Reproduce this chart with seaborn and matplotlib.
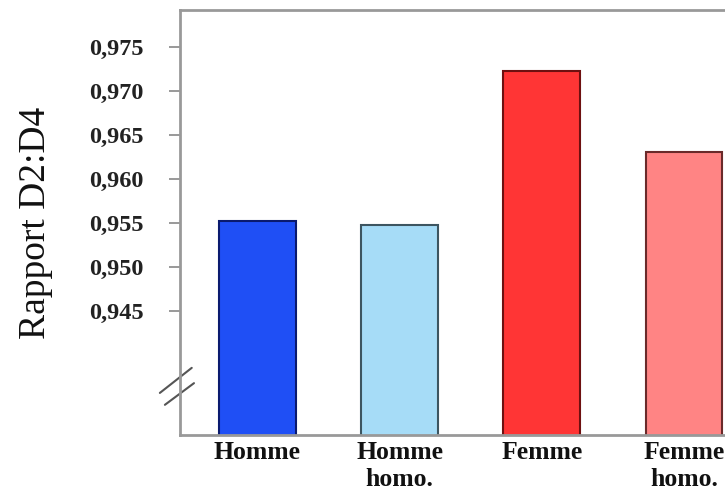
import matplotlib
matplotlib.use("Agg")
import matplotlib.pyplot as plt
import seaborn as sns
import pandas as pd

# Data
categories = ["Homme", "Homme\nhomo.", "Femme", "Femme\nhomo."]
ratios = [0.9552, 0.9548, 0.9722, 0.9631]
fill_colors = ["#1f4ff5", "#a6dcf7", "#ff3535", "#ff8484"]
edge_colors = ["#0a1a6e", "#3d5560", "#6e1010", "#6a2a2a"]
y_ticks = [0.945, 0.950, 0.955, 0.960, 0.965, 0.970, 0.975]

df = pd.DataFrame({"groupe": categories, "rapport": ratios})

sns.set_style("white")
plt.rcParams["font.family"] = ["Liberation Serif", "DejaVu Serif"]

fig = plt.figure(figsize=(7.25, 4.99), dpi=100)
ax = fig.add_axes([180 / 725, 1 - 435 / 499, 1 - 180 / 725 + 0.02, 425 / 499])

sns.barplot(data=df, x="groupe", y="rapport", hue="groupe",
            palette=fill_colors, saturation=1, legend=False, width=0.54,
            ax=ax, linewidth=1.5)
for bar, ec in zip(ax.patches, edge_colors):
    bar.set_edgecolor(ec)

ax.set_ylim(0.93093, 0.97917)
ax.set_xlim(-0.545, 3.39)
ax.set_yticks(y_ticks)
ax.set_yticklabels([f"{t:.3f}".replace(".", ",") for t in y_ticks],
                   fontsize=17.5, fontweight="bold", color="#222222")
ax.set_xticklabels(categories, fontsize=18.5, fontweight="bold",
                   linespacing=1.25, color="#111111")
ax.tick_params(axis="y", direction="out", length=8, width=1.2,
               color="#888888", left=True, pad=18)
ax.tick_params(axis="x", length=0, pad=4)

ax.set_xlabel("")
ax.set_ylabel("Rapport D2:D4", fontsize=27, labelpad=26, color="#111111")

for side in ["left", "bottom", "top"]:
    ax.spines[side].set_color("#999999")
    ax.spines[side].set_linewidth(2)
ax.spines["right"].set_visible(False)

# axis break marks
ax.plot([-0.036, 0.021], [0.099, 0.158], transform=ax.transAxes,
        color="#555555", lw=1.5, clip_on=False)
ax.plot([-0.027, 0.025], [0.071, 0.122], transform=ax.transAxes,
        color="#555555", lw=1.5, clip_on=False)

plt.savefig("out.png", dpi=100)
